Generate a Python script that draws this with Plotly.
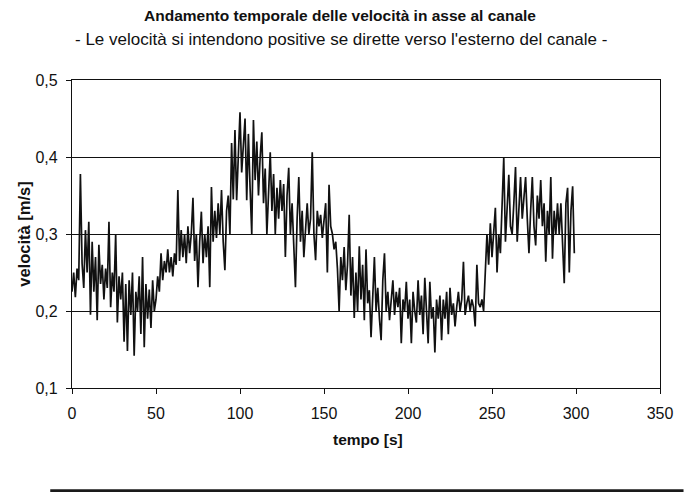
import plotly.graph_objects as go

# Sampling instants (s) and axial velocity (m/s)
tempo = list(range(0, 300))
velocita = [
    0.225, 0.250, 0.218, 0.255, 0.240, 0.378, 0.262, 0.230, 0.305, 0.250,
    0.316, 0.195, 0.290, 0.225, 0.270, 0.188, 0.286, 0.235, 0.260, 0.215,
    0.255, 0.230, 0.316, 0.205, 0.250, 0.225, 0.300, 0.185, 0.245, 0.215,
    0.250, 0.160, 0.235, 0.148, 0.240, 0.195, 0.250, 0.142, 0.225, 0.200,
    0.245, 0.170, 0.270, 0.153, 0.235, 0.190, 0.228, 0.178, 0.240, 0.200,
    0.215, 0.245, 0.225, 0.275, 0.240, 0.265, 0.250, 0.280, 0.250, 0.270,
    0.245, 0.275, 0.260, 0.357, 0.265, 0.305, 0.270, 0.300, 0.262, 0.310,
    0.275, 0.300, 0.347, 0.265, 0.300, 0.231, 0.290, 0.329, 0.262, 0.300,
    0.270, 0.310, 0.231, 0.361, 0.290, 0.330, 0.295, 0.340, 0.300, 0.357,
    0.290, 0.253, 0.330, 0.350, 0.300, 0.418, 0.345, 0.435, 0.344, 0.400,
    0.458, 0.380, 0.420, 0.450, 0.344, 0.430, 0.360, 0.300, 0.448, 0.370,
    0.420, 0.350, 0.400, 0.432, 0.340, 0.385, 0.300, 0.360, 0.406, 0.330,
    0.378, 0.300, 0.360, 0.320, 0.370, 0.330, 0.365, 0.270, 0.350, 0.386,
    0.300, 0.340, 0.290, 0.231, 0.320, 0.374, 0.290, 0.330, 0.270, 0.310,
    0.340, 0.300, 0.320, 0.406, 0.300, 0.266, 0.330, 0.310, 0.325, 0.295,
    0.320, 0.340, 0.250, 0.364, 0.310, 0.300, 0.280, 0.290, 0.255, 0.200,
    0.270, 0.240, 0.283, 0.227, 0.260, 0.325, 0.220, 0.270, 0.191, 0.250,
    0.200, 0.284, 0.215, 0.260, 0.188, 0.280, 0.210, 0.227, 0.166, 0.225,
    0.270, 0.200, 0.230, 0.190, 0.162, 0.240, 0.275, 0.200, 0.225, 0.188,
    0.215, 0.240, 0.195, 0.225, 0.205, 0.230, 0.158, 0.215, 0.200, 0.238,
    0.190, 0.215, 0.158, 0.225, 0.200, 0.185, 0.240, 0.195, 0.220, 0.170,
    0.243, 0.200, 0.158, 0.238, 0.190, 0.205, 0.146, 0.215, 0.190, 0.220,
    0.162, 0.215, 0.190, 0.225, 0.170, 0.230, 0.195, 0.210, 0.180, 0.205,
    0.225, 0.200, 0.215, 0.264, 0.195, 0.210, 0.220, 0.200, 0.215, 0.205,
    0.180, 0.260, 0.210, 0.205, 0.215, 0.200, 0.250, 0.300, 0.260, 0.314,
    0.270, 0.300, 0.334, 0.250, 0.300, 0.275, 0.330, 0.399, 0.290, 0.340,
    0.377, 0.310, 0.300, 0.340, 0.387, 0.290, 0.340, 0.374, 0.320, 0.350,
    0.374, 0.320, 0.275, 0.330, 0.374, 0.310, 0.285, 0.350, 0.320, 0.370,
    0.310, 0.340, 0.264, 0.330, 0.300, 0.374, 0.268, 0.330, 0.300, 0.340,
    0.300, 0.340, 0.280, 0.236, 0.340, 0.360, 0.250, 0.330, 0.362, 0.275,
]

x_ticks = [0, 50, 100, 150, 200, 250, 300, 350]
y_ticks = [0.1, 0.2, 0.3, 0.4, 0.5]

titolo = "Andamento temporale delle velocità in asse al canale"
sottotitolo = "- Le velocità si intendono positive se dirette verso l'esterno del canale -"
titolo_x = "tempo [s]"
titolo_y = "velocità [m/s]"

FONT = "Liberation Sans, Arial, Helvetica, sans-serif"
INK = "#111111"

fig = go.Figure()
fig.add_trace(go.Scatter(
    x=tempo, y=velocita, mode="lines",
    line=dict(color=INK, width=1.7),
    showlegend=False, hoverinfo="skip",
))

fig.update_layout(
    width=685, height=492,
    margin=dict(l=72, r=21, t=80, b=104),
    paper_bgcolor="white", plot_bgcolor="white",
    separators=",.",
    font=dict(family=FONT, size=15, color=INK),
    showlegend=False,
)

fig.update_xaxes(
    range=[0, 350], tickvals=x_ticks, ticktext=[str(v) for v in x_ticks],
    showgrid=False, zeroline=False,
    showline=True, linecolor=INK, linewidth=1.3, mirror=True,
    ticks="outside", ticklen=5, tickcolor=INK, tickwidth=1.2,
    ticklabelstandoff=6,
    tickfont=dict(family=FONT, size=16, color=INK),
)
fig.update_yaxes(
    range=[0.1, 0.5], tickvals=y_ticks,
    ticktext=[f"{v:.1f}".replace(".", ",") for v in y_ticks],
    showgrid=True, gridcolor=INK, gridwidth=1.3, zeroline=False,
    showline=True, linecolor=INK, linewidth=1.3, mirror=True,
    ticks="outside", ticklen=5, tickcolor=INK, tickwidth=1.2,
    ticklabelstandoff=5,
    tickfont=dict(family=FONT, size=16, color=INK),
)

# Title lines and axis captions
fig.add_annotation(text=f"<b>{titolo}</b>", xref="paper", yref="paper",
                   x=0.456, y=1.2078, xanchor="center", yanchor="middle",
                   showarrow=False, font=dict(family=FONT, size=15.5, color=INK))
fig.add_annotation(text=sottotitolo, xref="paper", yref="paper",
                   x=0.458, y=1.131, xanchor="center", yanchor="middle",
                   showarrow=False, font=dict(family=FONT, size=17, color=INK))
fig.add_annotation(text=f"<b>{titolo_x}</b>", xref="paper", yref="paper",
                   x=0.503, y=-0.1688, xanchor="center", yanchor="middle",
                   showarrow=False, font=dict(family=FONT, size=15.5, color=INK))
fig.add_annotation(text=f"<b>{titolo_y}</b>", xref="paper", yref="paper",
                   x=-0.082, y=0.5, xanchor="center", yanchor="middle", textangle=-90,
                   showarrow=False, font=dict(family=FONT, size=16.5, color=INK))

# Rule across the foot of the page
fig.add_shape(type="line", xref="paper", yref="paper",
              x0=-0.037, x1=1.04, y0=-0.334, y1=-0.334,
              line=dict(color="#1a1a1a", width=3))

fig.write_html("out.html")
